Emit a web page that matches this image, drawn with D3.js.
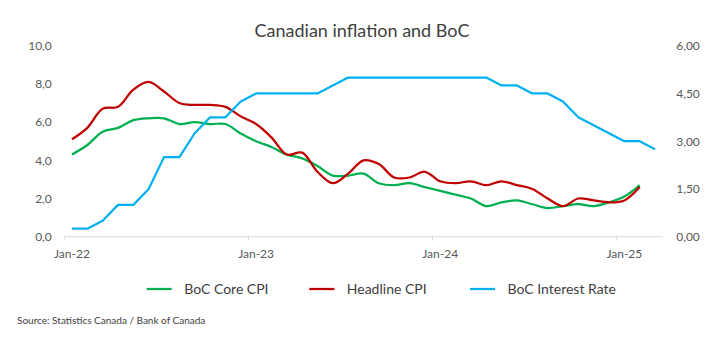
<!DOCTYPE html>
<html>
<head>
<meta charset="utf-8">
<script src="https://cdn.jsdelivr.net/npm/d3@7"></script>
<style>
  body { margin: 0; background: #fff; }
  svg { display: block; font-family: Lato, "Open Sans", sans-serif; }
</style>
</head>
<body>
<div id="chart"></div>
<script>
// Monthly categories, Jan-22 .. Mar-25
const months = d3.utcMonth.range(new Date(Date.UTC(2022, 0, 1)), new Date(Date.UTC(2025, 3, 1)));
const fmtMonth = d3.utcFormat("%b-%y");
const monthLabels = months.map(fmtMonth);
const tickLabels = ["Jan-22", "Jan-23", "Jan-24", "Jan-25"];

// CPI y/y % (left axis), Jan-22 .. Feb-25
const coreCPI = [4.3, 4.8, 5.5, 5.7, 6.1, 6.2, 6.2, 5.9, 6.0, 5.9, 5.9, 5.4,
                 5.0, 4.7, 4.3, 4.1, 3.7, 3.2, 3.2, 3.3, 2.8, 2.7, 2.8, 2.6,
                 2.4, 2.2, 2.0, 1.6, 1.8, 1.9, 1.7, 1.5, 1.6, 1.7, 1.6, 1.8,
                 2.1, 2.7];
const headlineCPI = [5.1, 5.7, 6.7, 6.8, 7.7, 8.1, 7.6, 7.0, 6.9, 6.9, 6.8, 6.3,
                     5.9, 5.2, 4.3, 4.4, 3.4, 2.8, 3.3, 4.0, 3.8, 3.1, 3.1, 3.4,
                     2.9, 2.8, 2.9, 2.7, 2.9, 2.7, 2.5, 2.0, 1.6, 2.0, 1.9, 1.8,
                     1.9, 2.6];
// Policy rate % (right axis), Jan-22 .. Mar-25
const bocRate = [0.25, 0.25, 0.5, 1.0, 1.0, 1.5, 2.5, 2.5, 3.25, 3.75, 3.75, 4.25,
                 4.5, 4.5, 4.5, 4.5, 4.5, 4.75, 5.0, 5.0, 5.0, 5.0, 5.0, 5.0,
                 5.0, 5.0, 5.0, 5.0, 4.75, 4.75, 4.5, 4.5, 4.25, 3.75, 3.5, 3.25,
                 3.0, 3.0, 2.75];

const leftTicks = [0, 2, 4, 6, 8, 10];
const rightTicks = [0, 1.5, 3, 4.5, 6];

const series = [
  { name: "BoC Core CPI", values: coreCPI, color: "#00B050", axis: "left", smooth: true },
  { name: "Headline CPI", values: headlineCPI, color: "#C00000", axis: "left", smooth: true },
  { name: "BoC Interest Rate", values: bocRate, color: "#00B0F0", axis: "right", smooth: false }
];

const svgWidth = 723, svgHeight = 341;
const plot = { left: 64.3, right: 662.7, top: 45.7, bottom: 236.7 };

const svg = d3.select("#chart").append("svg")
    .attr("width", svgWidth)
    .attr("height", svgHeight);

// comma decimal separator
const locale = d3.formatLocale({ decimal: ",", thousands: ".", grouping: [3], currency: ["", ""] });
const fmt1 = locale.format(".1f");
const fmt2 = locale.format(".2f");

// Scales
const x = d3.scaleBand().domain(monthLabels).range([plot.left, plot.right]).padding(0);
const yL = d3.scaleLinear().domain([0, 10]).range([plot.bottom, plot.top]);
const yR = d3.scaleLinear().domain([0, 6]).range([plot.bottom, plot.top]);
const xMid = m => x(m) + x.bandwidth() / 2;

// Title
svg.append("text")
    .attr("x", 362)
    .attr("y", 37)
    .attr("text-anchor", "middle")
    .style("font-size", "18px")
    .style("fill", "#404040")
    .text("Canadian inflation and BoC");

// Left axis
const gL = svg.append("g")
    .attr("transform", "translate(" + plot.left + ",0)")
    .call(d3.axisLeft(yL).tickValues(leftTicks).tickFormat(fmt1).tickSize(0).tickPadding(12.5));
gL.select(".domain").remove();

// Right axis
const gR = svg.append("g")
    .attr("transform", "translate(" + plot.right + ",0)")
    .call(d3.axisRight(yR).tickValues(rightTicks).tickFormat(fmt2).tickSize(0).tickPadding(13.5));
gR.select(".domain").remove();

svg.selectAll(".tick text")
    .style("font-size", "12px")
    .style("fill", "#595959")
    .style("font-family", "Lato, 'Open Sans', sans-serif");

// X axis line, ticks at the start of each January, labels at mid-month
svg.append("line")
    .attr("x1", plot.left).attr("x2", plot.right)
    .attr("y1", plot.bottom).attr("y2", plot.bottom)
    .attr("stroke", "#D9D9D9")
    .attr("stroke-width", 1);

svg.selectAll(".xtick")
    .data(tickLabels)
    .enter().append("line")
    .attr("class", "xtick")
    .attr("x1", d => x(d)).attr("x2", d => x(d))
    .attr("y1", plot.bottom).attr("y2", plot.bottom + 4)
    .attr("stroke", "#D9D9D9");

svg.selectAll(".xlabel")
    .data(tickLabels)
    .enter().append("text")
    .attr("class", "xlabel")
    .attr("x", d => xMid(d))
    .attr("y", 258)
    .attr("text-anchor", "middle")
    .style("font-size", "12px")
    .style("fill", "#595959")
    .text(d => d);

// Lines
series.forEach(s => {
  const y = s.axis === "left" ? yL : yR;
  const line = d3.line()
      .x((d, i) => xMid(monthLabels[i]))
      .y(d => y(d))
      .curve(s.smooth ? d3.curveCatmullRom.alpha(0.5) : d3.curveLinear);
  svg.append("path")
      .datum(s.values)
      .attr("fill", "none")
      .attr("stroke", s.color)
      .attr("stroke-width", 2.25)
      .attr("stroke-linejoin", "round")
      .attr("d", line);
});

// Legend
const legendX = [146.7, 309.3, 470];
const legendY = 289;
const legend = svg.selectAll(".legend")
    .data(series)
    .enter().append("g")
    .attr("class", "legend")
    .attr("transform", (d, i) => "translate(" + legendX[i] + "," + legendY + ")");

legend.append("line")
    .attr("x1", 0).attr("x2", 25)
    .attr("stroke", d => d.color)
    .attr("stroke-width", 2.25);

legend.append("text")
    .attr("x", 37.5)
    .attr("dy", "0.35em")
    .style("font-size", "14px")
    .style("fill", "#404040")
    .text(d => d.name);

// Source note
svg.append("text")
    .attr("x", 17)
    .attr("y", 324)
    .style("font-size", "10px")
    .style("fill", "#404040")
    .text("Source: Statistics Canada / Bank of Canada");
</script>
</body>
</html>
